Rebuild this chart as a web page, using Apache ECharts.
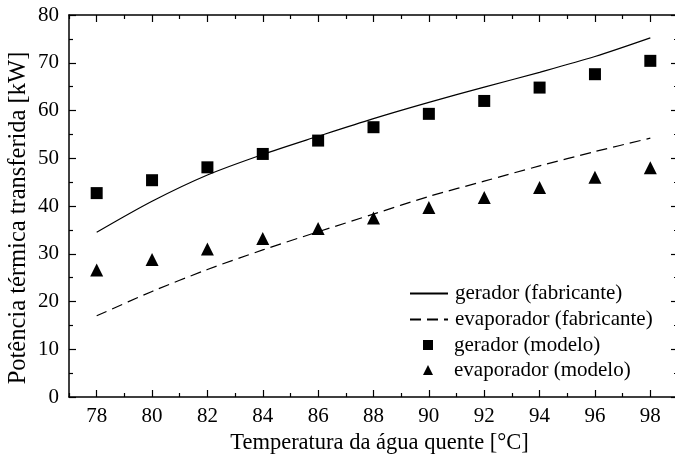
<!DOCTYPE html>
<html><head><meta charset="utf-8">
<script src="https://cdn.jsdelivr.net/npm/echarts@6/dist/echarts.min.js"></script>
<style>html,body{margin:0;padding:0;background:#fff}#c{width:675px;height:457px}</style>
</head><body><div id="c"></div>
<script>
const temps = [78, 80, 82, 84, 86, 88, 90, 92, 94, 96, 98];
const geradorFab = [34.5, 41.0, 46.5, 50.8, 54.6, 58.3, 61.7, 64.9, 68.0, 71.3, 75.2];
const evapFab = [17.0, 22.1, 26.7, 30.8, 34.6, 38.3, 42.0, 45.2, 48.4, 51.4, 54.2];
const geradorMod = [42.7, 45.4, 48.1, 50.9, 53.7, 56.5, 59.3, 62.0, 64.8, 67.6, 70.4];
const evapMod = [26.6, 28.8, 31.0, 33.2, 35.3, 37.5, 39.7, 41.8, 43.9, 46.0, 48.0];
const xMajor = [78, 80, 82, 84, 86, 88, 90, 92, 94, 96, 98];
const xMinor = [77, 79, 81, 83, 85, 87, 89, 91, 93, 95, 97, 99];
const names = ['gerador (fabricante)', 'evaporador (fabricante)', 'gerador (modelo)', 'evaporador (modelo)'];

const pairs = a => temps.map((t, i) => [t, a[i]]);
const font = 'Liberation Serif';
const chart = echarts.init(document.getElementById('c'));
const line = {show: true, lineStyle: {color: '#000', width: 1.5}};
function xAx(pos, major, withLabel) {
  const o = {
    type: 'value', min: 77, max: 99, position: pos, splitLine: {show: false},
    axisLine: major ? line : {show: false},
    axisTick: {show: true, inside: true, length: major ? 7 : 4, customValues: major ? xMajor : xMinor,
      lineStyle: {color: '#000', width: 1.2}},
    axisLabel: withLabel ? {show: true, customValues: xMajor, fontFamily: font, fontSize: 21, color: '#000', margin: 9}
                         : {show: false}
  };
  if (withLabel) {
    o.name = 'Temperatura da água quente [°C]';
    o.nameLocation = 'middle';
    o.nameGap = 33;
    o.nameTextStyle = {fontFamily: font, fontSize: 22.5, color: '#000', padding: [0, 0, 0, 12]};
  }
  return o;
}
function yAx(pos, withLabel) {
  const o = {
    type: 'value', min: 0, max: 80, interval: 10, position: pos, splitLine: {show: false},
    axisLine: line,
    axisTick: {show: true, inside: true, length: 7, lineStyle: {color: '#000', width: 1.2}},
    minorTick: {show: true, splitNumber: 2, length: 4, lineStyle: {color: '#000', width: 1.2}},
    axisLabel: withLabel ? {fontFamily: font, fontSize: 21, color: '#000', margin: 10} : {show: false}
  };
  if (withLabel) {
    o.name = 'Potência térmica transferida [kW]';
    o.nameLocation = 'middle';
    o.nameGap = 38;
    o.nameMoveOverlap = false;
    o.nameTextStyle = {fontFamily: font, fontSize: 24.5, color: '#000', padding: [0, 24, 0, 0]};
  }
  return o;
}
chart.setOption({
  animation: false,
  backgroundColor: '#fff',
  textStyle: {fontFamily: font},
  grid: {left: 69, right: -3, top: 15, bottom: 60, containLabel: false, outerBoundsMode: 'none'},
  xAxis: [xAx('bottom', true, true), xAx('bottom', false, false), xAx('top', true, false), xAx('top', false, false)],
  yAxis: [yAx('left', true), yAx('right', false)],
  legend: [{
    orient: 'vertical', left: 404, top: 278, itemGap: 5, itemWidth: 38, itemHeight: 9,
    textStyle: {fontFamily: font, fontSize: 21, color: '#000', padding: [0, 0, 0, 2]},
    data: [{name: names[0], itemStyle: {opacity: 0}}, {name: names[1], itemStyle: {opacity: 0}}]
  }, {
    orient: 'vertical', left: 418, top: 329.5, itemGap: 4, itemWidth: 10, itemHeight: 10,
    textStyle: {fontFamily: font, fontSize: 21, color: '#000', padding: [0, 0, 0, 16]},
    data: [names[2], names[3]]
  }],
  series: [
    {name: names[0], type: 'line', data: pairs(geradorFab), showSymbol: false, symbol: 'none',
      smooth: 0.3, lineStyle: {color: '#000', width: 1.2}, itemStyle: {color: '#000'}},
    {name: names[1], type: 'line', data: pairs(evapFab), showSymbol: false, symbol: 'none',
      smooth: 0.3, lineStyle: {color: '#000', width: 1.2, type: [11, 6]}, itemStyle: {color: '#000'}},
    {name: names[2], type: 'scatter', data: pairs(geradorMod), symbol: 'rect', symbolSize: 12,
      itemStyle: {color: '#000', opacity: 1}},
    {name: names[3], type: 'scatter', data: pairs(evapMod), symbol: 'triangle', symbolSize: 13,
      itemStyle: {color: '#000', opacity: 1}}
  ]
});
</script></body></html>
